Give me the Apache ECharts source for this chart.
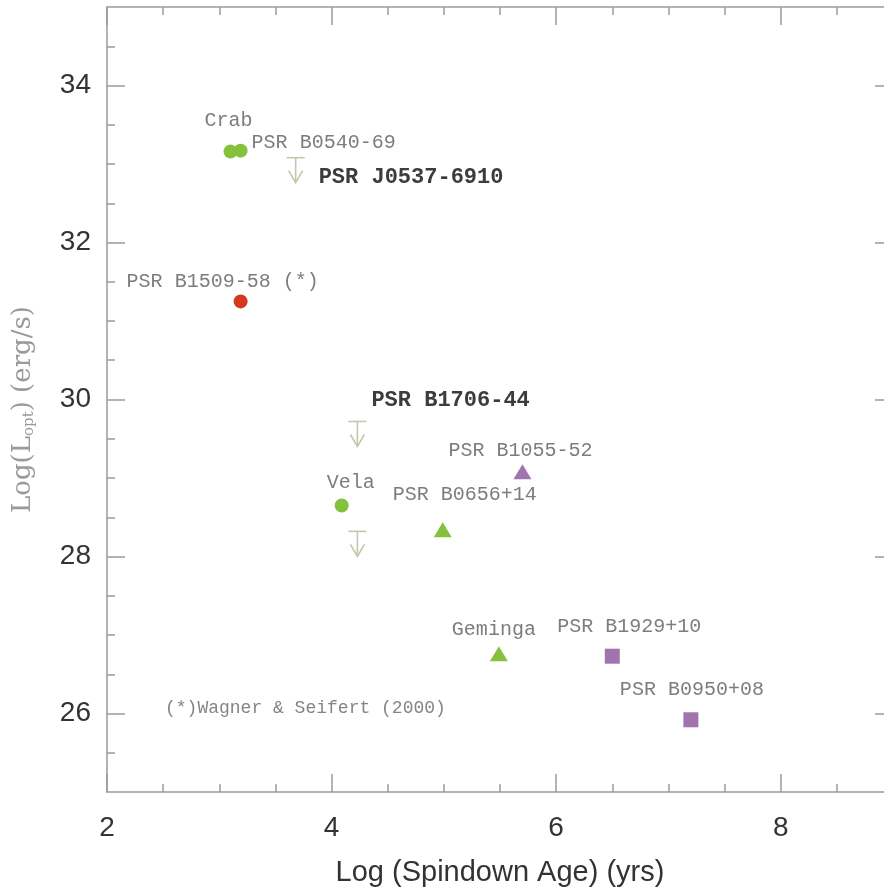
<!DOCTYPE html>
<html>
<head>
<meta charset="utf-8">
<script src="https://cdn.jsdelivr.net/npm/echarts@6/dist/echarts.min.js"></script>
<style>
html,body{margin:0;padding:0;background:#fff;}
#chart{width:884px;height:891px;}
</style>
</head>
<body>
<div id="chart"></div>
<script>
// ---- data ----
const circleNames = ['Crab', 'PSR B0540-69', 'Vela'];
const circleAge = [3.10, 3.19, 4.09];
const circleLum = [33.16, 33.17, 28.65];

const redNames = ['PSR B1509-58 (*)'];
const redAge = [3.19];
const redLum = [31.25];

const greenTriNames = ['PSR B0656+14', 'Geminga'];
const greenTriAge = [4.99, 5.49];
const greenTriLum = [28.34, 26.76];

const purpleTriNames = ['PSR B1055-52'];
const purpleTriAge = [5.70];
const purpleTriLum = [29.08];

const squareNames = ['PSR B1929+10', 'PSR B0950+08'];
const squareAge = [6.50, 7.20];
const squareLum = [26.73, 25.92];

const limitNames = ['PSR J0537-6910', 'PSR B1706-44', ''];
const limitAge = [3.68, 4.23, 4.23];
const limitLum = [33.08, 29.72, 28.32];

const xMajorTicks = [2, 4, 6, 8];
const xMinorTicks = [2.5, 3, 3.5, 4.5, 5, 5.5, 6.5, 7, 7.5, 8.5];
const yMajorTicks = [26, 28, 30, 32, 34];
const yMinorTicks = [25.5, 26.5, 27, 27.5, 28.5, 29, 29.5, 30.5, 31, 31.5, 32.5, 33, 33.5, 34.5];

const noteText = '(*)Wagner & Seifert (2000)';

// ---- styles ----
const axisColor = '#9a9a9a';
const green = '#86c13e';
const red = '#d3391e';
const purple = '#a274ae';
const limitColor = '#bfc9ab';
const monoFont = '"Liberation Mono", "DejaVu Sans Mono", monospace';
const grayText = '#7d7d7d';
const darkText = '#3c3c3c';

// label placement (pixel offsets from the mark centre)
const labelPlace = {
  'Crab': {dx: -2, dy: -31, align: 'center'},
  'PSR B0540-69': {dx: 11, dy: -8, align: 'left'},
  'PSR B1509-58 (*)': {dx: -114, dy: -20, align: 'left'},
  'Vela': {dx: 9, dy: -23, align: 'center'},
  'PSR B0656+14': {dx: 22, dy: -35, align: 'center'},
  'PSR B1055-52': {dx: -2, dy: -21, align: 'center'},
  'Geminga': {dx: -5, dy: -24, align: 'center'},
  'PSR B1929+10': {dx: 17, dy: -29, align: 'center'},
  'PSR B0950+08': {dx: 1, dy: -30, align: 'center'},
  'PSR J0537-6910': {dx: 23, dy: 20, align: 'left', bold: true},
  'PSR B1706-44': {dx: 14, dy: -21, align: 'left', bold: true}
};

function labelFor(name) {
  const p = labelPlace[name];
  return {
    show: true,
    position: 'inside',
    formatter: name,
    align: p.align,
    verticalAlign: 'middle',
    offset: [p.dx, p.dy],
    color: p.bold ? darkText : grayText,
    fontFamily: monoFont,
    fontSize: p.bold ? 22 : 20,
    fontWeight: p.bold ? 'bold' : 'normal'
  };
}

function pts(names, xs, ys) {
  return names.map((n, i) => ({name: n, value: [xs[i], ys[i]], label: labelFor(n)}));
}

function xAx(pos, ticks, len, showLabel, showLine) {
  return {
    type: 'value', position: pos, min: 2, max: 9,
    name: showLabel ? 'Log (Spindown Age) (yrs)' : '',
    nameLocation: 'middle', nameGap: 66,
    nameTextStyle: {fontFamily: '"Liberation Sans", Arial, sans-serif', fontSize: 29, color: '#333'},
    axisLine: {show: showLine, onZero: false, lineStyle: {color: axisColor, width: 1.5}},
    axisTick: {show: true, inside: true, length: len, customValues: ticks, lineStyle: {color: axisColor, width: 1.5}},
    axisLabel: {show: showLabel, customValues: xMajorTicks, margin: 22,
      fontFamily: '"Liberation Sans", Arial, sans-serif', fontSize: 28, color: '#333'},
    splitLine: {show: false}
  };
}
function yAx(pos, ticks, len, showLabel, showLine) {
  return {
    type: 'value', position: pos, min: 25, max: 35,
    name: showLabel ? 'Log(L{sub|opt}) (erg/s)' : '',
    nameLocation: 'middle', nameGap: 70,
    nameTextStyle: {fontFamily: '"DejaVu Serif", "Liberation Serif", serif', fontSize: 26, color: '#9a9a9a',
      padding: [0, 20, 0, 0],
      rich: {sub: {fontFamily: '"DejaVu Serif", "Liberation Serif", serif', fontSize: 15, color: '#9a9a9a', padding: [12, 0, 0, 0]}}},
    axisLine: {show: showLine, onZero: false, lineStyle: {color: axisColor, width: 1.5}},
    axisTick: {show: true, inside: true, length: len, customValues: ticks, lineStyle: {color: axisColor, width: 1.5}},
    axisLabel: {show: showLabel, customValues: yMajorTicks, margin: 16,
      fontFamily: '"Liberation Sans", Arial, sans-serif', fontSize: 28, color: '#333'},
    splitLine: {show: false}
  };
}

const chart = echarts.init(document.getElementById('chart'), null, {renderer: 'canvas'});

const option = {
  animation: false,
  backgroundColor: '#ffffff',
  grid: {left: 107, top: 7, width: 786, height: 785, containLabel: false, outerBoundsMode: 'none'},
  xAxis: [
    xAx('bottom', xMajorTicks, 18, true, true),
    xAx('bottom', xMinorTicks, 8, false, false),
    xAx('top', xMajorTicks, 18, false, true),
    xAx('top', xMinorTicks, 8, false, false)
  ],
  yAxis: [
    yAx('left', yMajorTicks, 18, true, true),
    yAx('left', yMinorTicks, 8, false, false),
    yAx('right', yMajorTicks, 18, false, true),
    yAx('right', yMinorTicks, 8, false, false)
  ],
  graphic: [{
    type: 'text', left: 165, top: 699,
    style: {text: noteText, fill: '#858585', font: '18px ' + monoFont}
  }],
  series: [
    {
      type: 'custom', name: 'upper limits', xAxisIndex: 0, yAxisIndex: 0,
      data: limitAge.map((x, i) => [x, limitLum[i]]),
      renderItem: function (params, api) {
        const p = api.coord([api.value(0), api.value(1)]);
        const st = {stroke: limitColor, lineWidth: 1.6, fill: null};
        const children = [
          {type: 'line', shape: {x1: p[0] - 9, y1: p[1], x2: p[0] + 9, y2: p[1]}, style: st},
          {type: 'line', shape: {x1: p[0], y1: p[1], x2: p[0], y2: p[1] + 25}, style: st},
          {type: 'polyline', shape: {points: [[p[0] - 7, p[1] + 13], [p[0], p[1] + 25], [p[0] + 7, p[1] + 13]]}, style: st}
        ];
        const nm = limitNames[params.dataIndex];
        if (nm) {
          const lp = labelPlace[nm];
          children.push({type: 'text', style: {
            text: nm, x: p[0] + lp.dx, y: p[1] + lp.dy, align: lp.align, verticalAlign: 'middle',
            fill: lp.bold ? darkText : grayText,
            font: (lp.bold ? 'bold 22px ' : '20px ') + monoFont
          }});
        }
        return {type: 'group', children: children};
      }
    },
    {type: 'scatter', name: 'circles', symbol: 'circle', symbolSize: 14,
      itemStyle: {color: green, opacity: 1}, data: pts(circleNames, circleAge, circleLum)},
    {type: 'scatter', name: 'red', symbol: 'circle', symbolSize: 14,
      itemStyle: {color: red, opacity: 1}, data: pts(redNames, redAge, redLum)},
    {type: 'scatter', name: 'green triangles', symbol: 'triangle', symbolSize: [18, 15],
      itemStyle: {color: green, opacity: 1}, data: pts(greenTriNames, greenTriAge, greenTriLum)},
    {type: 'scatter', name: 'purple triangles', symbol: 'triangle', symbolSize: [18, 15],
      itemStyle: {color: purple, opacity: 1}, data: pts(purpleTriNames, purpleTriAge, purpleTriLum)},
    {type: 'scatter', name: 'squares', symbol: 'rect', symbolSize: [15, 15],
      itemStyle: {color: purple, opacity: 1}, data: pts(squareNames, squareAge, squareLum)}
  ]
};
chart.setOption(option);
</script>
</body>
</html>
